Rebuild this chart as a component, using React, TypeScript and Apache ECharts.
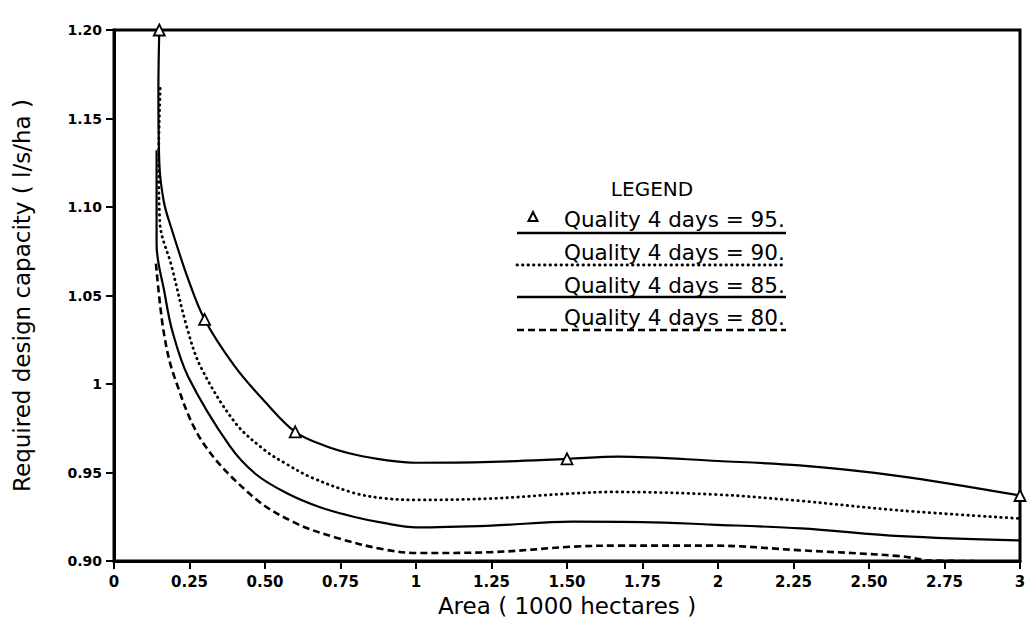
import React, { useEffect, useRef } from "react";
import * as echarts from "echarts";

// ---- data (Area in 1000 ha, capacity in l/s/ha) ----
const q95Area = [0.15, 0.147, 0.15, 0.165, 0.19, 0.245, 0.3, 0.4, 0.5, 0.6, 0.7, 0.8, 0.9, 1.0, 1.25, 1.5, 1.67, 2.0, 2.27, 2.6, 3.0];
const q95Cap = [1.2, 1.166, 1.125, 1.103, 1.088, 1.0595, 1.0365, 1.01, 0.99, 0.973, 0.965, 0.96, 0.957, 0.9555, 0.956, 0.9577, 0.959, 0.9565, 0.954, 0.948, 0.937];

const q90Area = [0.153, 0.148, 0.152, 0.19, 0.243, 0.289, 0.402, 0.5, 0.569, 0.65, 0.791, 0.89, 1.0, 1.25, 1.5, 1.65, 2.0, 2.27, 2.6, 3.0];
const q90Cap = [1.167, 1.128, 1.091, 1.067, 1.031, 1.009, 0.978, 0.9625, 0.955, 0.9475, 0.9386, 0.9355, 0.9345, 0.9353, 0.938, 0.939, 0.9375, 0.934, 0.9286, 0.924];

const q85Area = [0.141, 0.141, 0.168, 0.193, 0.246, 0.383, 0.47, 0.571, 0.68, 0.793, 0.892, 1.0, 1.25, 1.517, 1.75, 1.978, 2.275, 2.605, 3.0];
const q85Cap = [1.132, 1.079, 1.051, 1.03, 1.004, 0.965, 0.949, 0.9384, 0.9305, 0.925, 0.9215, 0.919, 0.92, 0.9222, 0.922, 0.9206, 0.9184, 0.914, 0.9116];

const q80Area = [0.139, 0.164, 0.2, 0.294, 0.4625, 0.6, 0.739, 0.895, 1.003, 1.25, 1.52, 1.684, 1.98, 2.277, 2.606, 2.7, 2.85];
const q80Cap = [1.068, 1.03, 1.004, 0.967, 0.936, 0.9215, 0.913, 0.9065, 0.9045, 0.905, 0.9081, 0.9087, 0.9087, 0.906, 0.9027, 0.9003, 0.9];

const q95MarkerArea = [0.15, 0.3, 0.6, 1.5, 3.0];
const q95MarkerCap = [1.2, 1.0365, 0.973, 0.9577, 0.937];

const xTickLabels = ["0", "0.25", "0.50", "0.75", "1", "1.25", "1.50", "1.75", "2", "2.25", "2.50", "2.75", "3"];
const yTickLabels = ["0.90", "0.95", "1", "1.05", "1.10", "1.15", "1.20"];

const legendTitle = "LEGEND";
const legendLabels = [
  "Quality 4 days = 95.",
  "Quality 4 days = 90.",
  "Quality 4 days = 85.",
  "Quality 4 days = 80.",
];

const xTitle = "Area ( 1000 hectares )";
const yTitle = "Required design capacity ( l/s/ha )";

const FONT = "DejaVu Sans";

const zip = (xs: number[], ys: number[]) => xs.map((x, i) => [x, ys[i]]);

export default function App() {
  const ref = useRef<HTMLDivElement>(null);

  useEffect(() => {
    if (!ref.current) return;
    const chart = echarts.init(ref.current, undefined, { renderer: "svg" });

    const black = "#000";
    const legendTextX = 564;
    const legendRows = [219, 252, 285, 317];
    const legendLineY = [233, 265, 297, 330];
    const legendDash: any[] = [null, [0.5, 5], null, [7, 4]];

    const graphics: any[] = [
      {
        type: "text",
        x: 652,
        y: 189,
        style: {
          text: legendTitle,
          fontSize: 20,
          fontFamily: FONT,
          fill: black,
          align: "center",
          verticalAlign: "middle",
        },
      },
      {
        type: "polygon",
        shape: { points: [[533, 212], [528.5, 221], [537.5, 221]] },
        style: { fill: "#fff", stroke: black, lineWidth: 2 },
      },
    ];
    legendLabels.forEach((t, i) => {
      graphics.push({
        type: "text",
        x: legendTextX,
        y: legendRows[i],
        style: {
          text: t,
          fontSize: 21.5,
          fontFamily: FONT,
          fill: black,
          align: "left",
          verticalAlign: "middle",
        },
      });
      graphics.push({
        type: "line",
        shape: { x1: 517, y1: legendLineY[i], x2: 786, y2: legendLineY[i] },
        style: {
          stroke: black,
          lineWidth: i === 1 ? 2.8 : 2.4,
          lineDash: legendDash[i] || undefined,
          lineCap: i === 1 ? "round" : "butt",
        },
      });
    });

    const lineSeries = (name: string, xs: number[], ys: number[], type: any, width: number, cap: string) => ({
      name,
      type: "line",
      data: zip(xs, ys),
      smooth: 0.35,
      symbol: "none",
      showSymbol: false,
      clip: false,
      lineStyle: { color: black, width, type, cap },
      z: 3,
    });

    chart.setOption({
      animation: false,
      backgroundColor: "#fff",
      grid: {
        left: 114,
        right: 10,
        top: 30,
        bottom: 64,
        show: true,
        borderColor: black,
        borderWidth: 3,
        backgroundColor: "transparent",
      },
      xAxis: {
        type: "value",
        min: 0,
        max: 3,
        interval: 0.25,
        name: xTitle,
        nameLocation: "middle",
        nameGap: 33,
        nameTextStyle: { fontSize: 23, fontFamily: FONT, color: black },
        axisLine: { show: true, onZero: false, lineStyle: { color: black, width: 3 } },
        axisTick: { show: true, length: 8, lineStyle: { color: black, width: 2 } },
        axisLabel: {
          fontSize: 15,
          fontWeight: "bold",
          fontFamily: FONT,
          color: black,
          margin: 13,
          formatter: (v: number) => xTickLabels[Math.round(v / 0.25)] ?? "",
        },
        splitLine: { show: false },
      },
      yAxis: {
        type: "value",
        min: 0.9,
        max: 1.2,
        interval: 0.05,
        name: yTitle,
        nameLocation: "middle",
        nameGap: 81,
        nameTextStyle: { fontSize: 23, fontFamily: FONT, color: black },
        axisLine: { show: true, onZero: false, lineStyle: { color: black, width: 3 } },
        axisTick: { show: true, length: 8, lineStyle: { color: black, width: 2 } },
        axisLabel: {
          fontSize: 14,
          fontWeight: "bold",
          fontFamily: FONT,
          color: black,
          margin: 12,
          formatter: (v: number) => yTickLabels[Math.round((v - 0.9) / 0.05)] ?? "",
        },
        splitLine: { show: false },
      },
      series: [
        lineSeries("Quality 4 days = 95.", q95Area, q95Cap, "solid", 2.2, "butt"),
        lineSeries("Quality 4 days = 90.", q90Area, q90Cap, [0.5, 5], 2.8, "round"),
        lineSeries("Quality 4 days = 85.", q85Area, q85Cap, "solid", 2.2, "butt"),
        lineSeries("Quality 4 days = 80.", q80Area, q80Cap, [7, 4], 2.6, "butt"),
        {
          name: "Quality 4 days = 95. markers",
          type: "scatter",
          data: zip(q95MarkerArea, q95MarkerCap),
          symbol: "triangle",
          symbolSize: 11,
          clip: false,
          itemStyle: { color: "#fff", opacity: 1, borderColor: black, borderWidth: 1.8 },
          z: 5,
        },
      ],
      graphic: graphics,
    });

    return () => chart.dispose();
  }, []);

  return (
    <div
      ref={ref}
      style={{ position: "fixed", left: 0, top: 0, width: 1030, height: 625, background: "#fff" }}
    />
  );
}
